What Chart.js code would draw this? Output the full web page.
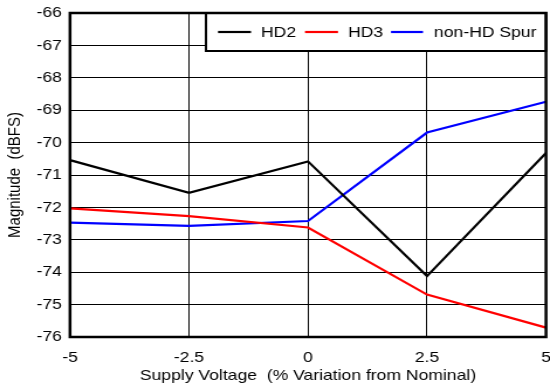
<!DOCTYPE html>
<html>
<head>
<meta charset="utf-8">
<script src="https://cdn.jsdelivr.net/npm/chart.js@4/dist/chart.umd.min.js"></script>
<style>
  html, body { margin: 0; padding: 0; background: #fff; overflow: hidden; }
  /* the original figure is a bit wider than tall in its lettering, so the
     chart is drawn on a narrower canvas and stretched to 550px */
  #wrap { width: 470px; height: 385px; transform: scaleX(1.1702); transform-origin: 0 0; }
</style>
</head>
<body>
<div id="wrap"><canvas id="myChart"></canvas></div>
<script>
// supply voltage variation (%)
const voltages = [-5, -2.5, 0, 2.5, 5];
const hd2 = [-70.54, -71.55, -70.58, -74.12, -70.32];
const hd3 = [-72.03, -72.27, -72.62, -74.69, -75.71];
const nonHdSpur = [-72.47, -72.57, -72.42, -69.69, -68.74];
const seriesNames = ['HD2', 'HD3', 'non-HD Spur'];
const seriesColors = ['#000000', '#ff0000', '#0000ff'];

const FONT = 'Arial, "Liberation Sans", sans-serif';
const K = 550 / 470; // horizontal stretch

const toPoints = (vals) => vals.map((v, i) => ({ x: voltages[i], y: v }));

// Draws the frame round the plot and the boxed legend in its top right corner
const framePlugin = {
    id: 'frame',
    afterDatasetsDraw(chart) {
        const { ctx, chartArea: a } = chart;
        ctx.save();
        // legend box
        const boxL = 206 / K, boxT = a.top, boxB = 51;
        ctx.fillStyle = '#fff';
        ctx.fillRect(boxL, boxT, a.right - boxL, boxB - boxT);
        ctx.strokeStyle = '#000';
        ctx.lineWidth = 2;
        ctx.strokeRect(boxL, boxT, a.right - boxL, boxB - boxT);
        const entries = [
            { x1: 218, x2: 251, tx: 261 },
            { x1: 305, x2: 338, tx: 348 },
            { x1: 391, x2: 423, tx: 434 }
        ];
        ctx.font = '15px ' + FONT;
        ctx.textBaseline = 'middle';
        ctx.textAlign = 'left';
        entries.forEach((e, i) => {
            ctx.strokeStyle = seriesColors[i];
            ctx.lineWidth = 2.2;
            ctx.beginPath();
            ctx.moveTo(e.x1 / K, 32);
            ctx.lineTo(e.x2 / K, 32);
            ctx.stroke();
            ctx.fillStyle = '#000';
            ctx.fillText(seriesNames[i], e.tx / K, 33);
        });
        // plot frame
        ctx.strokeStyle = '#000';
        ctx.lineWidth = 2.5;
        ctx.strokeRect(a.left, a.top, a.right - a.left, a.bottom - a.top);
        ctx.restore();
    }
};

const renderChart = () => {
    var ctx = document.getElementById('myChart').getContext('2d');
    var myChart = new Chart(ctx, {
        type: 'line',
        data: {
            datasets: [hd2, hd3, nonHdSpur].map((vals, i) => ({
                label: seriesNames[i],
                data: toPoints(vals),
                borderColor: seriesColors[i],
                backgroundColor: seriesColors[i],
                borderWidth: 2.2,
                pointRadius: 0,
                tension: 0
            }))
        },
        options: {
            responsive: true,
            maintainAspectRatio: false,
            animation: false,
            layout: {
                autoPadding: false,
                padding: { left: 0, right: 4 / K, top: 13, bottom: 0 }
            },
            plugins: {
                legend: { display: false },
                tooltip: { enabled: false }
            },
            scales: {
                x: {
                    type: 'linear',
                    min: -5,
                    max: 5,
                    ticks: {
                        stepSize: 2.5,
                        color: '#000',
                        font: { family: FONT, size: 15 },
                        padding: 12,
                        maxRotation: 0
                    },
                    grid: { color: '#000', lineWidth: 1, drawTicks: false },
                    border: { display: false },
                    title: {
                        display: true,
                        text: 'Supply Voltage  (% Variation from Nominal)',
                        color: '#000',
                        font: { family: FONT, size: 15 },
                        padding: { top: -2, bottom: 0 }
                    },
                    afterFit: (scale) => {
                        scale.height = 48;
                        scale.paddingLeft = 0;
                        scale.paddingRight = 0;
                    }
                },
                y: {
                    min: -76,
                    max: -66,
                    ticks: {
                        stepSize: 1,
                        color: '#000',
                        font: { family: FONT, size: 15 },
                        padding: 7
                    },
                    grid: { color: '#000', lineWidth: 1, drawTicks: false },
                    border: { display: false },
                    title: {
                        display: true,
                        text: 'Magnitude  (dBFS)',
                        color: '#000',
                        font: { family: FONT, size: 15 },
                        padding: { top: 4, bottom: 0 }
                    },
                    afterFit: (scale) => {
                        scale.width = 70 / K;
                        scale.paddingTop = 0;
                        scale.paddingBottom = 0;
                    }
                }
            }
        },
        plugins: [framePlugin]
    });
}

document.addEventListener('DOMContentLoaded', function() {
    renderChart();
});
</script>
</body>
</html>
